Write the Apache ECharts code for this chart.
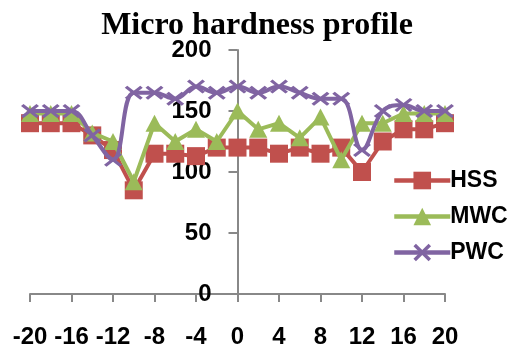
<!DOCTYPE html>
<html><head><meta charset="utf-8">
<script src="https://cdn.jsdelivr.net/npm/echarts@6/dist/echarts.min.js"></script>
<style>html,body{margin:0;padding:0;background:#fff}#c{width:514px;height:350px}</style>
</head><body><div id="c"></div>
<script>
const xPositions = [-20,-18,-16,-14,-12,-10,-8,-6,-4,-2,0,2,4,6,8,10,12,14,16,18,20];
const hss = [140,140,140,130,118,85,115,115,113,120,120,120,115,120,115,120,100,125,135,135,140];
const mwc = [148,148,148,132,125,92,140,125,135,125,150,135,140,128,145,110,140,140,148,148,148];
const pwc = [150,150,150,130,110,165,165,160,170,165,170,165,170,165,160,160,118,150,155,150,150];
const seriesNames = ['HSS','MWC','PWC'];
const xTicks = {min:-20, max:20, interval:4};
const yTicks = {min:0, max:200, interval:50};

const pair = arr => xPositions.map((x,i)=>[x,arr[i]]);
const xPath = 'path://M0,1.4L1.4,0L5,3.6L8.6,0L10,1.4L6.4,5L10,8.6L8.6,10L5,6.4L1.4,10L0,8.6L3.6,5Z';
const font = '"Liberation Sans", Arial, sans-serif';
const W = 514, gridLeft = 30, gridRight = 69;
const chart = echarts.init(document.getElementById('c'), null, {renderer:'canvas'});
chart.setOption({
  animation:false,
  backgroundColor:'#fff',
  title:{text:'Micro hardness profile', left:'center', top:5,
    textStyle:{fontFamily:'"Liberation Serif", "Times New Roman", serif', fontWeight:'bold', fontSize:32, color:'#000'}},
  grid:{left:gridLeft, right:gridRight, top:50, bottom:56, containLabel:false, outerBoundsMode:'none'},
  legend:{orient:'vertical', left:387, top:164, itemWidth:56, itemHeight:22, itemGap:13,
    lineStyle:{width:4.5},
    textStyle:{fontFamily:font, fontWeight:'bold', fontSize:23, color:'#000', padding:[0,0,0,-5]},
    data:seriesNames},
  xAxis:{type:'value', min:xTicks.min, max:xTicks.max, interval:xTicks.interval,
    axisLine:{onZero:false, lineStyle:{color:'#888', width:2}},
    axisTick:{show:true, length:8, lineStyle:{color:'#888', width:2}},
    splitLine:{show:false},
    axisLabel:{margin:31, fontFamily:font, fontWeight:'bold', fontSize:24, color:'#000'}},
  yAxis:{type:'value', min:yTicks.min, max:yTicks.max, interval:yTicks.interval,
    position:'left', offset:-(W - gridLeft - gridRight) / 2,
    axisLine:{show:true, onZero:false, lineStyle:{color:'#888', width:2}},
    axisTick:{show:true, length:9, lineStyle:{color:'#888', width:2}},
    splitLine:{show:false},
    axisLabel:{margin:26, fontFamily:font, fontWeight:'bold', fontSize:24, color:'#000'}},
  series:[
    {name:seriesNames[0], type:'line', data:pair(hss), symbol:'rect', symbolSize:18,
      color:'#C0504D', lineStyle:{width:4, color:'#C0504D'}, itemStyle:{color:'#C0504D'}, z:2},
    {name:seriesNames[1], type:'line', data:pair(mwc), symbol:'triangle', symbolSize:[18,17],
      color:'#9BBB59', lineStyle:{width:4, color:'#9BBB59'}, itemStyle:{color:'#9BBB59'}, z:3},
    {name:seriesNames[2], type:'line', data:pair(pwc), symbol:xPath, symbolSize:[18,14], smooth:0.4,
      color:'#8064A2', lineStyle:{width:4, color:'#8064A2'}, itemStyle:{color:'#8064A2'}, z:4}
  ]
});
</script></body></html>
